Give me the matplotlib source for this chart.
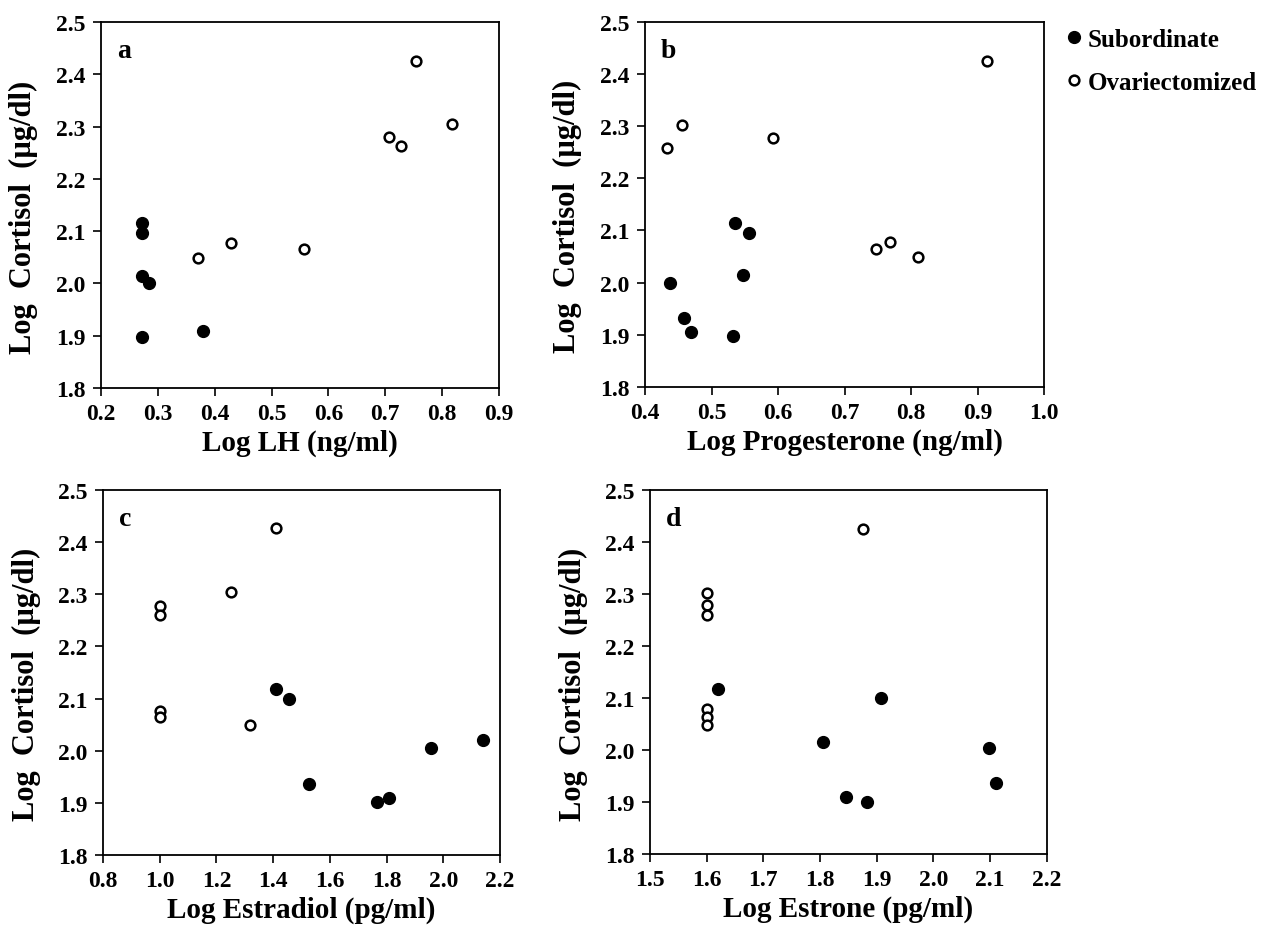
import numpy as np
import matplotlib
matplotlib.use("Agg")
import matplotlib.pyplot as plt
from matplotlib.lines import Line2D

plt.rcParams['font.family'] = ['Liberation Serif', 'DejaVu Serif']
plt.rcParams['font.weight'] = 'bold'

# Panel a: Log LH
lh_sub_x = [0.273, 0.273, 0.273, 0.284, 0.273, 0.380]
lh_sub_y = [2.115, 2.097, 2.015, 2.000, 1.898, 1.908]
lh_ovx_x = [0.370, 0.429, 0.557, 0.707, 0.727, 0.755, 0.818]
lh_ovx_y = [2.048, 2.078, 2.065, 2.280, 2.262, 2.425, 2.305]

# Panel b: Log Progesterone
prog_sub_x = [0.438, 0.458, 0.469, 0.532, 0.535, 0.556, 0.548]
prog_sub_y = [2.000, 1.933, 1.906, 1.898, 2.115, 2.096, 2.014]
prog_ovx_x = [0.433, 0.456, 0.593, 0.748, 0.768, 0.810, 0.914]
prog_ovx_y = [2.259, 2.302, 2.278, 2.065, 2.078, 2.049, 2.425]

# Panel c: Log Estradiol
e2_sub_x = [1.411, 1.457, 1.525, 1.765, 1.810, 1.957, 2.142]
e2_sub_y = [2.119, 2.099, 1.936, 1.902, 1.910, 2.005, 2.021]
e2_ovx_x = [1.412, 1.251, 1.000, 1.000, 1.000, 1.000, 1.320]
e2_ovx_y = [2.426, 2.304, 2.278, 2.261, 2.077, 2.064, 2.050]

# Panel d: Log Estrone
e1_sub_x = [1.620, 1.907, 1.805, 1.845, 1.883, 2.098, 2.110]
e1_sub_y = [2.117, 2.099, 2.016, 1.909, 1.900, 2.003, 1.936]
e1_ovx_x = [1.600, 1.600, 1.600, 1.600, 1.600, 1.600, 1.876]
e1_ovx_y = [2.301, 2.279, 2.260, 2.079, 2.064, 2.048, 2.425]

panels = [
    ("a", "Log LH (ng/ml)", lh_sub_x, lh_sub_y, lh_ovx_x, lh_ovx_y,
     np.arange(0.2, 0.91, 0.1), [0.0798, 0.5813, 0.3146, 0.3940]),
    ("b", "Log Progesterone (ng/ml)", prog_sub_x, prog_sub_y, prog_ovx_x, prog_ovx_y,
     np.arange(0.4, 1.01, 0.1), [0.5099, 0.5824, 0.3154, 0.3930]),
    ("c", "Log Estradiol (pg/ml)", e2_sub_x, e2_sub_y, e2_ovx_x, e2_ovx_y,
     np.arange(0.8, 2.21, 0.2), [0.0814, 0.0786, 0.3138, 0.3930]),
    ("d", "Log Estrone (pg/ml)", e1_sub_x, e1_sub_y, e1_ovx_x, e1_ovx_y,
     np.arange(1.5, 2.21, 0.1), [0.5138, 0.0797, 0.3138, 0.3918]),
]

yticks = np.arange(1.8, 2.51, 0.1)

fig = plt.figure(figsize=(12.65, 9.29), dpi=100)

for letter, xlabel, sx, sy, ox, oy, xticks, rect in panels:
    ax = fig.add_axes(rect)
    ax.plot(sx, sy, 'o', color='black', markersize=8.5, linestyle='none')
    ax.plot(ox, oy, 'o', markerfacecolor='white', markeredgecolor='black',
            markeredgewidth=1.8, markersize=7, linestyle='none')
    ax.set_xlim(xticks[0], xticks[-1])
    ax.set_ylim(1.8, 2.5)
    ax.set_xticks(xticks)
    ax.set_xticklabels(["{:.1f}".format(t) for t in xticks])
    ax.set_yticks(yticks)
    ax.set_yticklabels(["{:.1f}".format(t) for t in yticks])
    ax.tick_params(direction='out', length=6, width=1.2, labelsize=17)
    ax.tick_params(axis='x', pad=5)
    ax.tick_params(axis='y', pad=5)
    for s in ax.spines.values():
        s.set_linewidth(1.3)
    ax.set_xlabel(xlabel, fontsize=21, fontweight='bold', labelpad=3)
    ax.set_ylabel("Log  Cortisol  (\u00b5g/dl)", fontsize=22, fontweight='bold')
    ax.yaxis.set_label_coords(-0.157, 0.47)
    ax.text(0.04, 0.955, letter, transform=ax.transAxes, fontsize=20,
            fontweight='bold', va='top', ha='left')

handles = [
    Line2D([], [], marker='o', color='black', linestyle='none', markersize=8.5),
    Line2D([], [], marker='o', markerfacecolor='white', markeredgecolor='black',
           markeredgewidth=1.8, markersize=7, linestyle='none'),
]
fig.legend(handles, ["Subordinate", "Ovariectomized"], loc='upper left',
           bbox_to_anchor=(0.825, 0.993), frameon=False,
           handlelength=0.6, handletextpad=0.25, labelspacing=0.8,
           prop={'weight': 'bold', 'size': 18})

fig.savefig("out.png", dpi=100)
